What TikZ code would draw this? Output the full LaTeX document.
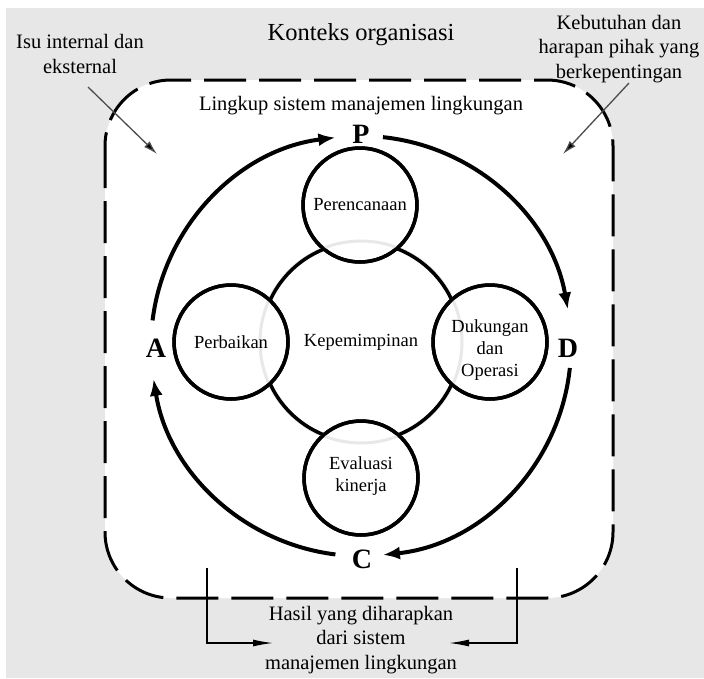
\documentclass[tikz,border=0pt]{standalone}
\usepackage{fontspec}
\setmainfont{Liberation Serif}
\usetikzlibrary{arrows.meta,calc}
\definecolor{bggray}{RGB}{231,231,231}
\definecolor{ghost}{RGB}{232,232,232}
\begin{document}
\begin{tikzpicture}[x=1pt,y=-1pt,
  lbl/.style={inner sep=0pt, align=center},
  biglbl/.style={lbl, font=\fontsize{24.5}{28}\selectfont},
  midlbl/.style={lbl, font=\fontsize{20.5}{24.5}\selectfont},
  innerlbl/.style={lbl, font=\fontsize{18.5}{22}\selectfont},
  pdca/.style={lbl, font=\fontsize{28}{30}\selectfont\bfseries},
  stage/.style={circle, draw, line width=3.5pt, fill=white, minimum size=114pt, inner sep=0pt},
  ring/.style={line width=4pt, -{Latex[length=17pt,width=13pt]}},
  boundary/.style={line width=3pt, dash pattern=on 42pt off 13pt, fill=white, rounded corners=66pt},
  pointer/.style={line width=1.3pt, draw=black!70, -{Latex[length=14pt,width=8pt,fill=black]}},
  bracket/.style={line width=1.3pt, -{Latex[length=20pt,width=7pt]}}
]
\useasboundingbox (0,0) rectangle (704,678);
\fill[white] (0,0) rectangle (704,678);
\fill[bggray] (6,8) rectangle (704,678);

% organisation boundary
\draw[boundary] (105,80) rectangle (613,598);

% outer texts
\node[biglbl] (konteks) at (361,35) {Konteks organisasi};
\node[midlbl] (isu) at (80,54) {Isu internal dan\\eksternal};
\node[midlbl] (keb) at (619,49) {Kebutuhan dan\\harapan pihak yang\\berkepentingan};
\node[midlbl] (lingkup) at (361,106) {Lingkup sistem manajemen lingkungan};
\node[midlbl] (hasil) at (361,640) {Hasil yang diharapkan\\dari sistem\\manajemen lingkungan};

% PDCA letters
\coordinate (O) at (361,346);
\node[pdca] (P) at (361,134) {P};
\node[pdca] (D) at (568,348) {D};
\node[pdca] (C) at (362,559) {C};
\node[pdca] (A) at (156,348) {A};

% PDCA ring arcs (clockwise)
\draw[ring] ($(O)+(-84:210)$) arc[start angle=-84, end angle=-10, radius=210];
\draw[ring] ($(O)+(6:210)$) arc[start angle=6, end angle=84, radius=210];
\draw[ring] ($(O)+(97:210)$) arc[start angle=97, end angle=171, radius=210];
\draw[ring] ($(O)+(-173:210)$) arc[start angle=-173, end angle=-97, radius=210];

% stage circles (filled)
\coordinate (M) at (361,342);
\node[stage] (plan) at (360,205) {};
\node[stage] (act) at (231,342) {};
\node[stage] (do) at (490,342) {};
\node[stage] (check) at (361,478) {};

% faint ghost ring
\draw[ghost, line width=3pt] (M) circle[radius=101];

% central leadership circle, outside the stage circles
\begin{scope}[even odd rule]
  \clip (0,0) rectangle (704,678)
    (plan.center) circle[radius=57] (act.center) circle[radius=57]
    (do.center) circle[radius=57] (check.center) circle[radius=57];
  \draw[line width=3.5pt] (M) circle[radius=100];
\end{scope}
\foreach \n in {plan,act,do,check}
  \draw[line width=3.5pt] (\n.center) circle[radius=57];

% labels
\node[innerlbl] (lead) at (M) {Kepemimpinan};
\node[innerlbl] (plantext) at (plan.center) {Perencanaan};
\node[innerlbl] (acttext) at (act.center) {Perbaikan};
\node[innerlbl] (dotext) at (490,350) {Dukungan\\dan\\Operasi};
\node[innerlbl] (checktext) at (361,476) {Evaluasi\\kinerja};

% pointers from context texts
\coordinate (isuS) at (88,87);
\coordinate (isuE) at (157,154);
\draw[pointer] (isuS) -- (isuE);
\coordinate (kebS) at (629,83);
\coordinate (kebE) at (563,154);
\draw[pointer] (kebS) -- (kebE);

% expected outcome brackets
\coordinate (hlS) at (207,568);
\coordinate (hlE) at (273,643);
\coordinate (hrS) at (517,568);
\coordinate (hrE) at (449,643);
\draw[bracket] (hlS) |- (hlE);
\draw[bracket] (hrS) |- (hrE);
\end{tikzpicture}
\end{document}
